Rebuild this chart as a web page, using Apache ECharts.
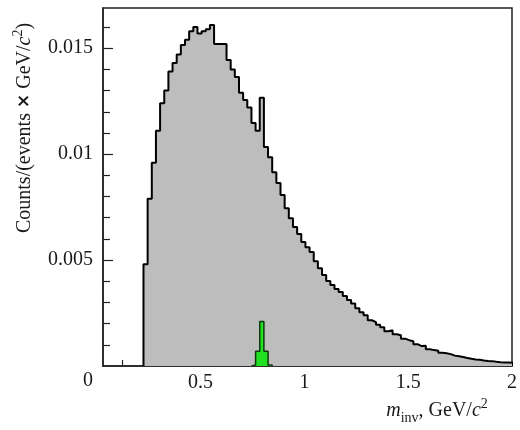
<!DOCTYPE html>
<html lang="en">
    <head>
        <meta charset="utf-8">
        <title>m_inv spectrum</title>
        <script src="https://cdn.jsdelivr.net/npm/echarts@6/dist/echarts.min.js"></script>
        <style media="screen">
            body {
                margin: 0;
                background: #fff;
            }
            #main {
                width: 520px;
                height: 430px;
            }
        </style>
    </head>
    <body>
        <div id="main"></div>
        <script>
            // histogram, bins of 0.02 GeV/c^2 starting at 0.225
            var binStart = 0.225
            var binWidth = 0.02
            var counts = [
                0.0048, 0.0079, 0.0096, 0.0111, 0.0124, 0.0130, 0.0139, 0.0143, 0.0147, 0.01515,
                0.0154, 0.0158, 0.0160, 0.0157, 0.0158, 0.0159, 0.0161, 0.0152, 0.0152, 0.0152,
                0.01445, 0.0140, 0.01364, 0.0129, 0.01256, 0.0122, 0.01147, 0.0111, 0.01266, 0.01034,
                0.00986, 0.00915, 0.00864, 0.00807, 0.00745, 0.00698, 0.00656, 0.00623, 0.00585, 0.00561,
                0.00538, 0.00495, 0.00462, 0.00429, 0.00401, 0.00382, 0.00363, 0.00349, 0.0033, 0.00311,
                0.00295, 0.00273, 0.00254, 0.0024, 0.00216, 0.00207, 0.00195, 0.00183, 0.00164, 0.00169,
                0.0015, 0.00145, 0.00129, 0.00122, 0.00117, 0.00103, 0.00094, 0.00096, 0.00079, 0.00075,
                0.00072, 0.00062, 0.0006, 0.00056, 0.00049, 0.00046, 0.00042, 0.00038, 0.00034, 0.00031,
                0.00029, 0.00026, 0.00024, 0.00023, 0.0002, 0.00018, 0.00017, 0.00017, 0.00015,
            ]

            // omega peak (green)
            var omegaStart = 0.745
            var omegaCounts = [0.00005, 0.0007, 0.0021, 0.0007, 0.00005]

            var xLabels = [0.5, 1, 1.5, 2]
            var yLabels = [0.005, 0.01, 0.015]
            var yMinorTicks = [0.001, 0.002, 0.003, 0.004, 0.006, 0.007, 0.008, 0.009,
                0.011, 0.012, 0.013, 0.014, 0.016]

            var serif = 'Liberation Serif'
            var textColor = '#1a1a1a'

            // step points from bin contents
            var stepData = (start, width, values) => {
                var d = [[start, 0]]
                for (var i = 0; i < values.length; i++) {
                    d.push([start + i * width, values[i]])
                }
                d.push([start + values.length * width, 0])
                return d
            }

            var __main = () => {
                var myChart = echarts.init(document.querySelector('#main'), null, {renderer: 'canvas'})
                var option = {
                    animation: false,
                    grid: {
                        left: 103,
                        right: 3,
                        top: 8,
                        bottom: 64,
                        show: true,
                        borderColor: '#222',
                        borderWidth: 1.5,
                    },
                    xAxis: {
                        type: 'value',
                        min: 0.03,
                        max: 2,
                        axisLine: {onZero: false, lineStyle: {color: '#222', width: 1.5}},
                        axisTick: {
                            inside: true,
                            length: 6,
                            customValues: [0.125],
                            lineStyle: {color: '#222', width: 1.2},
                        },
                        axisLabel: {
                            customValues: xLabels,
                            fontFamily: serif,
                            fontSize: 20,
                            color: textColor,
                            margin: 7,
                            formatter: (v) => String(v),
                        },
                        splitLine: {show: false},
                    },
                    yAxis: [
                        {
                            type: 'value',
                            min: 0,
                            max: 0.0169,
                            axisLine: {show: true, lineStyle: {color: '#222', width: 1.5}},
                            axisTick: {
                                inside: true,
                                length: 10,
                                customValues: yLabels,
                                lineStyle: {color: '#222', width: 1.2},
                            },
                            axisLabel: {
                                customValues: yLabels,
                                fontFamily: serif,
                                fontSize: 20,
                                color: textColor,
                                margin: 10,
                                formatter: (v) => String(v),
                            },
                            splitLine: {show: false},
                        },
                        {
                            type: 'value',
                            min: 0,
                            max: 0.0169,
                            position: 'left',
                            axisLine: {show: false},
                            axisTick: {
                                inside: true,
                                length: 7,
                                customValues: yMinorTicks,
                                lineStyle: {color: '#222', width: 1.2},
                            },
                            axisLabel: {show: false},
                            splitLine: {show: false},
                        },
                    ],
                    series: [
                        {
                            type: 'line',
                            step: 'end',
                            showSymbol: false,
                            data: stepData(binStart, binWidth, counts),
                            lineStyle: {color: '#000', width: 2},
                            areaStyle: {color: '#bdbdbd', opacity: 1},
                            z: 2,
                        },
                        {
                            type: 'line',
                            step: 'end',
                            showSymbol: false,
                            data: stepData(omegaStart, binWidth, omegaCounts),
                            lineStyle: {color: '#0b3a0b', width: 1.5},
                            areaStyle: {color: '#22e022', opacity: 1},
                            z: 3,
                        },
                    ],
                    graphic: [
                        {
                            type: 'text',
                            x: 88,
                            y: 381,
                            style: {
                                text: '0',
                                font: '20px "Liberation Serif"',
                                fill: textColor,
                                align: 'center',
                                verticalAlign: 'middle',
                            },
                        },
                        {
                            type: 'text',
                            x: 243,
                            y: 326,
                            style: {
                                text: 'ω',
                                font: 'italic 21px "Liberation Serif"',
                                fill: textColor,
                                align: 'center',
                                verticalAlign: 'middle',
                            },
                        },
                        {
                            type: 'text',
                            x: 437,
                            y: 411,
                            style: {
                                text: '{i|m}{sub|inv}, GeV/{i|c}{sup|2}',
                                font: '20px "Liberation Serif"',
                                fill: textColor,
                                align: 'center',
                                verticalAlign: 'middle',
                                rich: {
                                    i: {fontStyle: 'italic', fontSize: 20, fontFamily: serif},
                                    sub: {fontSize: 14, fontFamily: serif, verticalAlign: 'bottom', padding: [0, 0, -4, 0]},
                                    sup: {fontSize: 14, fontFamily: serif, verticalAlign: 'top', padding: [-4, 0, 0, 0]},
                                },
                            },
                        },
                        {
                            type: 'text',
                            x: 25,
                            y: 128,
                            rotation: Math.PI / 2,
                            style: {
                                text: 'Counts/(events {x|×} GeV/{i|c}{sup|2})',
                                font: '20px "Liberation Serif"',
                                fill: textColor,
                                align: 'center',
                                verticalAlign: 'middle',
                                rich: {
                                    x: {fontFamily: 'DejaVu Sans', fontWeight: 'bold', fontSize: 17},
                                    i: {fontStyle: 'italic', fontSize: 20, fontFamily: serif},
                                    sup: {fontSize: 14, fontFamily: serif, verticalAlign: 'top', padding: [-4, 0, 0, 0]},
                                },
                            },
                        },
                    ],
                }
                myChart.setOption(option)
            }
            __main()
        </script>
    </body>
</html>
